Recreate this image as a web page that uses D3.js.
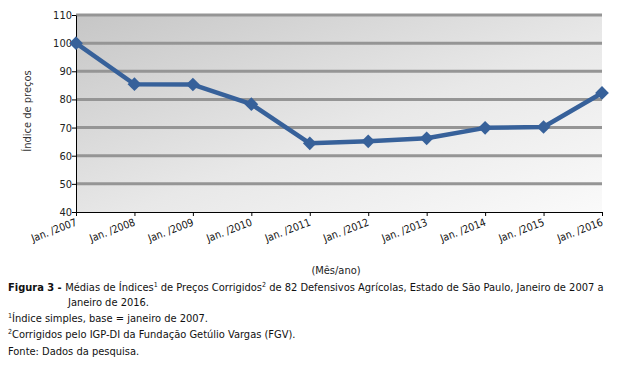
<!DOCTYPE html>
<html><head><meta charset="utf-8">
<script src="https://cdn.jsdelivr.net/npm/d3@7"></script>
<style>
html,body{margin:0;padding:0;background:#fff;}
svg{display:block;}
</style></head>
<body>
<svg id="c" width="631" height="368"></svg>
<script>
const years = ["Jan. /2007","Jan. /2008","Jan. /2009","Jan. /2010","Jan. /2011","Jan. /2012","Jan. /2013","Jan. /2014","Jan. /2015","Jan. /2016"];
const values = [100, 85.4, 85.3, 78.3, 64.4, 65.1, 66.2, 69.9, 70.2, 82.3];
const yTicks = [40,50,60,70,80,90,100,110];
const gridValues = [50,60,70,80,90,100,110];

const svg = d3.select("#c");
const L = 76, R = 602, T = 15, B = 212;
const x = d3.scalePoint().domain(years).range([L, R]);
const y = d3.scaleLinear().domain([40, 110]).range([B, T]);
const cf = "'DejaVu Sans Condensed','DejaVu Sans',sans-serif";

const defs = svg.append("defs");
const g = defs.append("linearGradient").attr("id","bg")
  .attr("x1","0").attr("y1","0").attr("x2","1").attr("y2","1");
g.append("stop").attr("offset","0").attr("stop-color","#c6c6c6");
g.append("stop").attr("offset","0.55").attr("stop-color","#e8e8e8");
g.append("stop").attr("offset","1").attr("stop-color","#fafafa");

svg.append("rect").attr("x",L).attr("y",y(110)).attr("width",R-L).attr("height",B-y(110)).attr("fill","url(#bg)");

svg.append("g").selectAll("line").data(gridValues).join("line")
  .attr("x1",L).attr("x2",R).attr("y1",d=>y(d)).attr("y2",d=>y(d))
  .attr("stroke","#959595").attr("stroke-width",3);

// y axis
const yAxis = svg.append("g").attr("transform",`translate(${L},0)`)
  .call(d3.axisLeft(y).tickValues(yTicks).tickSize(4).tickSizeOuter(0));
yAxis.select(".domain").attr("stroke","#000");
yAxis.selectAll(".tick line").attr("stroke","#000");
yAxis.selectAll("text").attr("font-family",cf)
  .attr("font-size","11px").attr("fill","#222").attr("x",-4);

// x axis
const xAxis = svg.append("g").attr("transform",`translate(0,${B})`)
  .call(d3.axisBottom(x).tickSize(4).tickSizeOuter(0));
xAxis.select(".domain").attr("stroke","#000");
xAxis.selectAll(".tick line").attr("stroke","#000");
xAxis.selectAll("text")
  .attr("font-family",cf)
  .attr("font-size","10.5px").attr("fill","#111")
  .attr("text-anchor","end").attr("dy",null).attr("y",0).attr("x",0)
  .attr("transform","translate(1,13) rotate(-21)");

// line
const line = d3.line().x((d,i)=>x(years[i])).y(d=>y(d));
svg.append("path").datum(values).attr("d",line)
  .attr("fill","none").attr("stroke","#37619a").attr("stroke-width",4.5).attr("stroke-linejoin","round");
const sym = d3.symbol().type(d3.symbolDiamond2).size(120);
svg.append("g").selectAll("path").data(values).join("path")
  .attr("d",sym).attr("transform",(d,i)=>`translate(${x(years[i])},${y(d)})`)
  .attr("fill","#37619a");

// y label
svg.append("text").attr("transform",`translate(31,${111}) rotate(-90)`)
  .attr("text-anchor","middle").attr("font-family",cf)
  .attr("font-size","11px").attr("fill","#333").text("Índice de preços");

svg.append("text").attr("x",336).attr("y",274).attr("text-anchor","middle")
  .attr("font-family",cf).attr("font-size","11px").attr("fill","#222").text("(Mês/ano)");

const cap = svg.append("g").attr("font-family",cf).attr("font-size","11px").attr("fill","#111");
const t1 = cap.append("text").attr("x",8).attr("y",291);
t1.append("tspan").attr("font-weight","bold").text("Figura 3 - ");
t1.append("tspan").text("Médias de Índices");
t1.append("tspan").attr("font-size","7px").attr("dy",-4).text("1");
t1.append("tspan").attr("dy",4).text(" de Preços Corrigidos");
t1.append("tspan").attr("font-size","7px").attr("dy",-4).text("2");
t1.append("tspan").attr("dy",4).text(" de 82 Defensivos Agrícolas, Estado de São Paulo, Janeiro de 2007 a");
cap.append("text").attr("x",68).attr("y",306).text("Janeiro de 2016.");
const t3 = cap.append("text").attr("x",8).attr("y",322);
t3.append("tspan").attr("font-size","7px").attr("dy",-4).text("1");
t3.append("tspan").attr("dy",4).text("Índice simples, base = janeiro de 2007.");
const t4 = cap.append("text").attr("x",8).attr("y",338);
t4.append("tspan").attr("font-size","7px").attr("dy",-4).text("2");
t4.append("tspan").attr("dy",4).text("Corrigidos pelo IGP-DI da Fundação Getúlio Vargas (FGV).");
cap.append("text").attr("x",8).attr("y",355).text("Fonte: Dados da pesquisa.");
</script>
</body></html>
